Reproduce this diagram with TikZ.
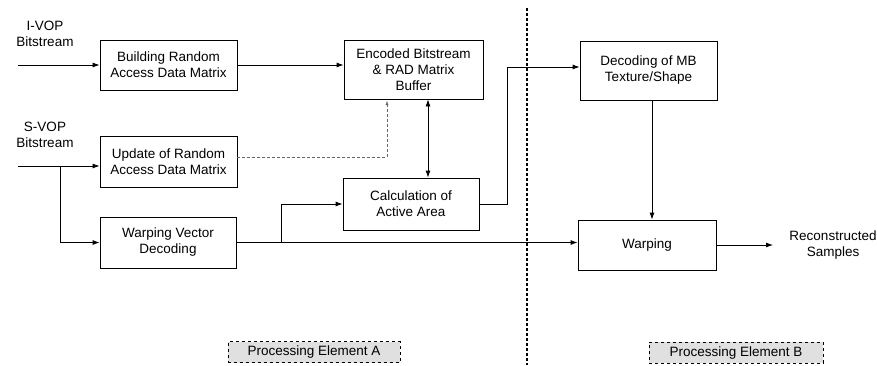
\documentclass[tikz,border=0pt]{standalone}
\usepackage{fontspec}
\setmainfont{Liberation Sans}
\usetikzlibrary{arrows.meta}
\begin{document}
\begin{tikzpicture}[x=1pt,y=-1pt,
    font=\fontsize{13.5}{16}\selectfont,
    blk/.style={draw,thick,align=center,inner sep=0pt},
    lbl/.style={align=center,inner sep=0pt},
    pe/.style={draw,thick,dashed,fill=black!12,inner sep=0pt,minimum height=21pt},
    >={Latex[length=7pt,width=5pt]}]
\useasboundingbox (0,0) rectangle (877,365);
            \node[blk,minimum width=137pt,minimum height=50pt] (build) at (168.5,65) {Building Random\\Access Data Matrix};
            \node[blk,minimum width=139pt,minimum height=59pt] (enc) at (413.5,69.5) {Encoded Bitstream\\\& RAD Matrix\\Buffer};
            \node[blk,minimum width=137pt,minimum height=51pt] (upd) at (168.5,161.5) {Update of Random\\Access Data Matrix};
            \node[blk,minimum width=136pt,minimum height=52pt] (calc) at (411,204) {Calculation of\\Active Area};
            \node[blk,minimum width=136pt,minimum height=51pt] (wvd) at (168,242.5) {Warping Vector\\Decoding};
            \node[blk,minimum width=137pt,minimum height=59pt] (dec) at (648.5,70.5) {Decoding of MB\\Texture/Shape};
            \node[blk,minimum width=138pt,minimum height=50pt] (warp) at (647,245) {Warping};
            \node[lbl] (ivop) at (45,34) {I-VOP\\Bitstream};
            \node[lbl] (svop) at (45,135) {S-VOP\\Bitstream};
            \node[lbl] (recon) at (833,245) {Reconstructed\\Samples};
            \node[pe,minimum width=172pt] (peA) at (314,352) {Processing Element A};
            \node[pe,minimum width=174pt] (peB) at (736,352.5) {Processing Element B};
            \coordinate (in1) at (18,65);
            \coordinate (in2) at (18,166);
            \coordinate (out) at (773,245);
            \draw [thick,->] (in1) -- (build);
            \draw [thick,->] (build) -- (build -| enc.west);
            \draw [thick,->] (in2) -- (upd.west |- in2);
            \draw [thick,->] (60,166) |- (wvd.west);
            \draw [thick,->] (wvd.east) -- (warp.west |- wvd.east);
            \draw [thick,->] (281,243) |- (calc.west);
            \draw [thick,<->] (enc.south -| 428,0) -- (calc.north -| 428,0);
            \draw [thick,->] (calc.east) -- (507,204) |- (dec.west |- 0,67);
            \draw [thick,->] (dec.south -| 652,0) -- (warp.north -| 652,0);
            \draw [thick,->] (warp) -- (out);
            \draw [black!60,densely dashed,-{Latex[length=4pt,width=3pt]}] (upd.east |- 0,157) -| (387,101);
            \draw [very thick,densely dashed] (527,8) -- (527,365);
\end{tikzpicture}
\end{document}
